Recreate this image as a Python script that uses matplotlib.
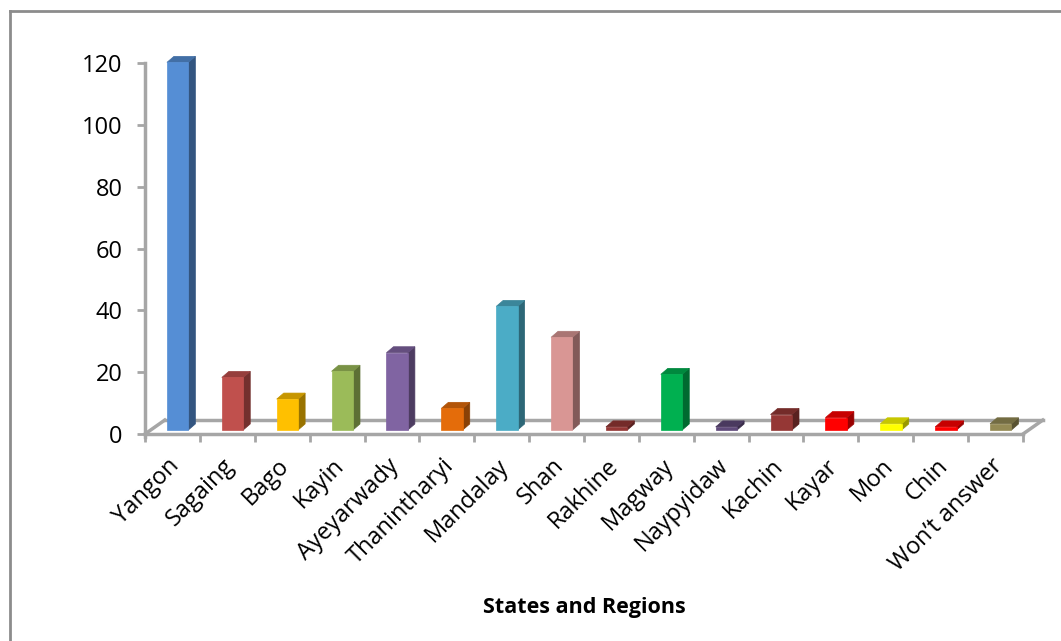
import matplotlib
matplotlib.use('Agg')
import matplotlib.pyplot as plt
import matplotlib.transforms as mtransforms
from matplotlib.patches import Polygon
from matplotlib.colors import to_rgb

# data
regions = ['Yangon', 'Sagaing', 'Bago', 'Kayin', 'Ayeyarwady', 'Thanintharyi',
           'Mandalay', 'Shan', 'Rakhine', 'Magway', 'Naypyidaw', 'Kachin',
           'Kayar', 'Mon', 'Chin', 'Won\u2019t answer']
counts = [119, 17, 10, 19, 25, 7, 40, 30, 1, 18, 1, 5, 4, 2, 1, 2]
bar_colors = ['#558ED5', '#C0504D', '#FFC000', '#9BBB59', '#8064A2', '#E46C0A',
              '#4BACC6', '#D99694', '#953735', '#00B050', '#5F497A', '#953735',
              '#FF0000', '#FFFF00', '#FF0000', '#948A54']
yticks = [0, 20, 40, 60, 80, 100, 120]
xlabel = 'States and Regions'

plt.rcParams['font.family'] = ['Open Sans', 'DejaVu Sans']

W, H = 1061, 641
fig = plt.figure(figsize=(W/100, H/100), dpi=100)
ax = fig.add_axes([145/W, (H-434)/H, (1023-145)/W, (434-63.3)/H])
ax.set_xlim(0, len(regions))
ax.set_ylim(0, 120)
for s in ax.spines.values():
    s.set_visible(False)

grey = '#A6A6A6'

# 3d look: depth offsets in data units
dx, dy = 0.128, 1.95
base = 1.3
fdx, fdy = 0.36, 4.5


def shade(c, f):
    r, g, b = to_rgb(c)
    return (r*f, g*f, b*f)


# floor outline
n = len(regions)
ax.plot([fdx, n+fdx], [fdy, fdy], color=grey, lw=2.5, clip_on=False, zorder=1)
ax.plot([0, n], [0, 0], color=grey, lw=2.5, clip_on=False, zorder=1)
ax.plot([0, fdx], [0, fdy], color=grey, lw=2.5, clip_on=False, zorder=1)
ax.plot([n, n+fdx], [0, fdy], color=grey, lw=2.5, clip_on=False, zorder=1)

# value axis line
ax.plot([0, 0], [-1, 120], color=grey, lw=2.5, clip_on=False, zorder=1)

for i, (v, c) in enumerate(zip(counts, bar_colors)):
    x0, x1 = i + 0.4, i + 0.79
    y0, y1 = base, base + v
    front = [(x0, y0), (x1, y0), (x1, y1), (x0, y1)]
    side = [(x1, y0), (x1+dx, y0+dy), (x1+dx, y1+dy), (x1, y1)]
    top = [(x0, y1), (x1, y1), (x1+dx, y1+dy), (x0+dx, y1+dy)]
    ax.add_patch(Polygon(side, closed=True, fc=shade(c, 0.6), ec=shade(c, 0.6), lw=0.5, clip_on=False, zorder=3))
    ax.add_patch(Polygon(top, closed=True, fc=shade(c, 0.78), ec=shade(c, 0.78), lw=0.5, clip_on=False, zorder=3))
    ax.add_patch(Polygon(front, closed=True, fc=c, ec=c, lw=0.5, clip_on=False, zorder=3))

# ticks
ax.set_yticks(yticks)
ax.tick_params(axis='y', length=6, width=2, color=grey, pad=10, labelsize=17)
ax.set_xticks(range(n+1))
ax.set_xticklabels([])
ax.tick_params(axis='x', length=6, width=2, color=grey)

off = mtransforms.offset_copy(ax.transData, fig, x=-5, y=-20, units='dots')
for i, name in enumerate(regions):
    ax.text(i+0.5, 0, name, transform=off, rotation=45, ha='right', va='top',
            rotation_mode='anchor', fontsize=17)

fig.text(584/W, 1-607/H, xlabel, ha='center', va='center', fontsize=15.5, fontweight='bold')

# chart border (top and left visible)
fig.add_artist(plt.Line2D([9.5/W, 9.5/W], [0, 1-11/H], color='#8C8C8C', lw=2))
fig.add_artist(plt.Line2D([9.5/W, 1], [1-11/H, 1-11/H], color='#8C8C8C', lw=2))

fig.savefig('out.png', dpi=100)
